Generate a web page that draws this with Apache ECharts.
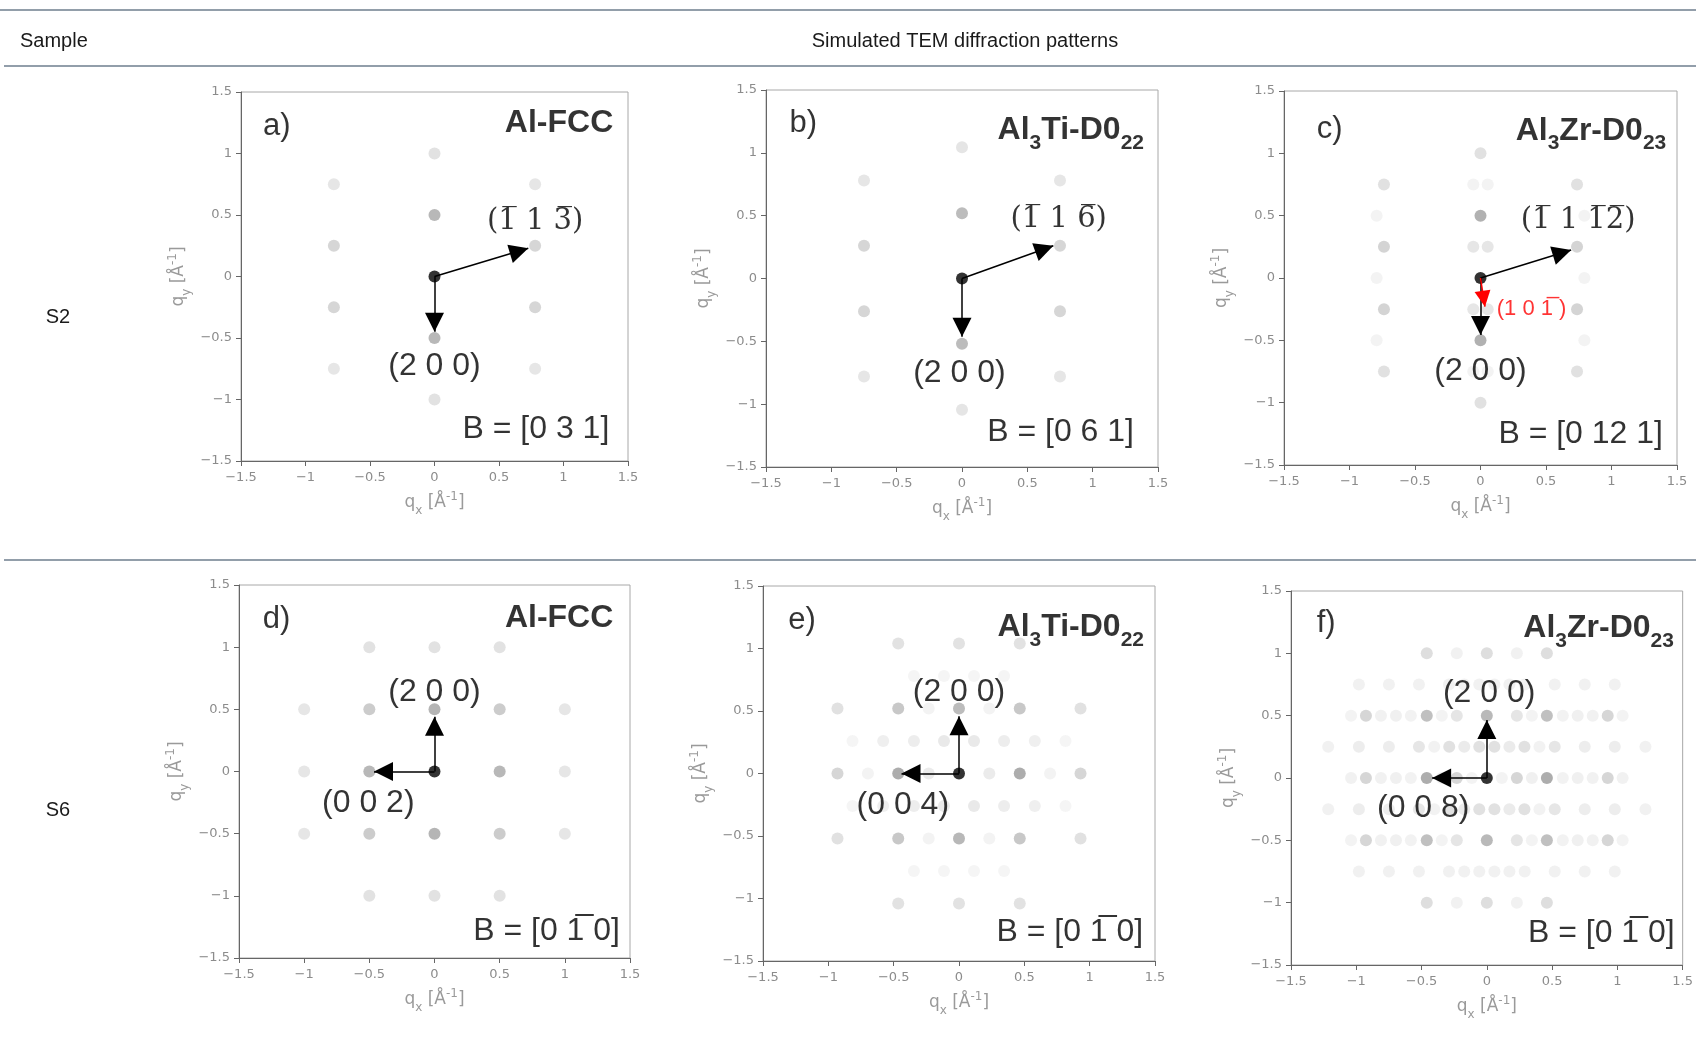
<!DOCTYPE html>
<html>
<head>
<meta charset="utf-8">
<title>Simulated TEM diffraction patterns</title>
<script src="https://cdn.jsdelivr.net/npm/echarts@6/dist/echarts.min.js"></script>
<style>
    html, body { margin: 0; padding: 0; background: #fff; }
    #main { width: 1696px; height: 1051px; }
</style>
</head>
<body>
<div id="main"></div>
<script>
// diffraction spots: [qx, qy, relative intensity]
const spotsA = [
    [0, 1, 0.14], [0, 0.5, 0.35], [0, 0, 1], [0, -0.5, 0.35], [0, -1, 0.14],
    [-0.78, 0.75, 0.12], [-0.78, 0.25, 0.2], [-0.78, -0.25, 0.2], [-0.78, -0.75, 0.12],
    [0.78, 0.75, 0.12], [0.78, 0.25, 0.2], [0.78, -0.25, 0.2], [0.78, -0.75, 0.12],
]
const spotsB = [
    [0, 1.045, 0.13], [0, 0.52, 0.33], [0, 0, 1], [0, -0.52, 0.33], [0, -1.045, 0.13],
    [-0.75, 0.78, 0.12], [-0.75, 0.26, 0.2], [-0.75, -0.26, 0.2], [-0.75, -0.78, 0.12],
    [0.75, 0.78, 0.12], [0.75, 0.26, 0.2], [0.75, -0.26, 0.2], [0.75, -0.78, 0.12],
]
const spotsC = [
    [0, 1, 0.15], [0, 0.5, 0.38], [0, 0, 1], [0, -0.5, 0.38], [0, -1, 0.15],
    [-0.055, 0.75, 0.06], [0.055, 0.75, 0.06], [-0.055, 0.25, 0.12], [0.055, 0.25, 0.12],
    [-0.055, -0.25, 0.12], [0.055, -0.25, 0.12], [-0.055, -0.75, 0.06], [0.055, -0.75, 0.06],
    [-0.737, 0.75, 0.15], [-0.737, 0.25, 0.21], [-0.737, -0.25, 0.21], [-0.737, -0.75, 0.15],
    [0.737, 0.75, 0.15], [0.737, 0.25, 0.21], [0.737, -0.25, 0.21], [0.737, -0.75, 0.15],
    [-0.793, 0.5, 0.06], [-0.793, 0, 0.06], [-0.793, -0.5, 0.06],
    [0.793, 0.5, 0.06], [0.793, 0, 0.06], [0.793, -0.5, 0.06],
]
const spotsD = [
    [-0.5, 1, 0.14], [0, 1, 0.14], [0.5, 1, 0.14],
    [-1, 0.5, 0.12], [-0.5, 0.5, 0.25], [0, 0.5, 0.36], [0.5, 0.5, 0.25], [1, 0.5, 0.12],
    [-1, 0, 0.12], [-0.5, 0, 0.35], [0, 0, 1], [0.5, 0, 0.35], [1, 0, 0.12],
    [-1, -0.5, 0.12], [-0.5, -0.5, 0.25], [0, -0.5, 0.36], [0.5, -0.5, 0.25], [1, -0.5, 0.12],
    [-0.5, -1, 0.14], [0, -1, 0.14], [0.5, -1, 0.14],
]
const spotsE = [
    [-0.465, 1.04, 0.14], [0, 1.04, 0.14], [0.465, 1.04, 0.14],
    [-0.345, 0.78, 0.05], [-0.115, 0.78, 0.05], [0.115, 0.78, 0.05], [0.345, 0.78, 0.05],
    [-0.93, 0.52, 0.15], [-0.465, 0.52, 0.27], [-0.232, 0.52, 0.06], [0, 0.52, 0.33],
    [0.232, 0.52, 0.06], [0.465, 0.52, 0.27], [0.93, 0.52, 0.15],
    [-0.815, 0.26, 0.05], [-0.58, 0.26, 0.08], [-0.345, 0.26, 0.09], [-0.115, 0.26, 0.105],
    [0.115, 0.26, 0.105], [0.345, 0.26, 0.09], [0.58, 0.26, 0.08], [0.815, 0.26, 0.05],
    [-0.93, 0, 0.2], [-0.697, 0, 0.06], [-0.465, 0, 0.4], [-0.232, 0, 0.1], [0, 0, 1],
    [0.232, 0, 0.1], [0.465, 0, 0.4], [0.697, 0, 0.06], [0.93, 0, 0.2],
    [-0.815, -0.26, 0.05], [-0.58, -0.26, 0.08], [-0.345, -0.26, 0.09], [-0.115, -0.26, 0.105],
    [0.115, -0.26, 0.105], [0.345, -0.26, 0.09], [0.58, -0.26, 0.08], [0.815, -0.26, 0.05],
    [-0.93, -0.52, 0.15], [-0.465, -0.52, 0.27], [-0.232, -0.52, 0.06], [0, -0.52, 0.35],
    [0.232, -0.52, 0.06], [0.465, -0.52, 0.27], [0.93, -0.52, 0.15],
    [-0.345, -0.78, 0.05], [-0.115, -0.78, 0.05], [0.115, -0.78, 0.05], [0.345, -0.78, 0.05],
    [-0.465, -1.04, 0.14], [0, -1.04, 0.14], [0.465, -1.04, 0.14],
]
const spotsF = [
    [-0.46, 1, 0.16], [-0.23, 1, 0.065], [0, 1, 0.16], [0.23, 1, 0.065], [0.46, 1, 0.16],
    [-0.98, 0.75, 0.065], [-0.75, 0.75, 0.065], [-0.52, 0.75, 0.065], [-0.29, 0.75, 0.07],
    [-0.173, 0.75, 0.065], [-0.058, 0.75, 0.065], [0.058, 0.75, 0.065], [0.173, 0.75, 0.065],
    [0.29, 0.75, 0.07], [0.52, 0.75, 0.065], [0.75, 0.75, 0.065], [0.98, 0.75, 0.065],
    [-1.04, 0.5, 0.06], [-0.926, 0.5, 0.2], [-0.811, 0.5, 0.065], [-0.696, 0.5, 0.075],
    [-0.582, 0.5, 0.063], [-0.46, 0.5, 0.31], [-0.345, 0.5, 0.06], [-0.23, 0.5, 0.13],
    [0, 0.5, 0.34], [0.23, 0.5, 0.13], [0.345, 0.5, 0.06], [0.46, 0.5, 0.31],
    [0.582, 0.5, 0.063], [0.696, 0.5, 0.075], [0.811, 0.5, 0.065], [0.926, 0.5, 0.2], [1.04, 0.5, 0.06],
    [-1.215, 0.25, 0.065], [-0.98, 0.25, 0.09], [-0.75, 0.25, 0.09], [-0.52, 0.25, 0.12],
    [-0.403, 0.25, 0.063], [-0.288, 0.25, 0.15], [-0.173, 0.25, 0.1], [-0.058, 0.25, 0.15],
    [0.058, 0.25, 0.15], [0.173, 0.25, 0.1], [0.288, 0.25, 0.15], [0.403, 0.25, 0.063],
    [0.52, 0.25, 0.12], [0.75, 0.25, 0.09], [0.98, 0.25, 0.09], [1.215, 0.25, 0.065],
    [-1.04, 0, 0.065], [-0.926, 0, 0.2], [-0.811, 0, 0.065], [-0.696, 0, 0.075], [-0.582, 0, 0.063],
    [-0.46, 0, 0.4], [-0.345, 0, 0.075], [-0.23, 0, 0.2], [-0.115, 0, 0.06], [0, 0, 1],
    [0.115, 0, 0.06], [0.23, 0, 0.2], [0.345, 0, 0.075], [0.46, 0, 0.4], [0.582, 0, 0.063],
    [0.696, 0, 0.075], [0.811, 0, 0.065], [0.926, 0, 0.2], [1.04, 0, 0.065],
    [-1.215, -0.25, 0.065], [-0.98, -0.25, 0.09], [-0.75, -0.25, 0.09], [-0.52, -0.25, 0.12],
    [-0.403, -0.25, 0.063], [-0.288, -0.25, 0.15], [-0.173, -0.25, 0.1], [-0.058, -0.25, 0.15],
    [0.058, -0.25, 0.15], [0.173, -0.25, 0.1], [0.288, -0.25, 0.15], [0.403, -0.25, 0.063],
    [0.52, -0.25, 0.12], [0.75, -0.25, 0.09], [0.98, -0.25, 0.09], [1.215, -0.25, 0.065],
    [-1.04, -0.5, 0.06], [-0.926, -0.5, 0.2], [-0.811, -0.5, 0.065], [-0.696, -0.5, 0.075],
    [-0.582, -0.5, 0.063], [-0.46, -0.5, 0.31], [-0.345, -0.5, 0.06], [-0.23, -0.5, 0.13],
    [0, -0.5, 0.34], [0.23, -0.5, 0.13], [0.345, -0.5, 0.06], [0.46, -0.5, 0.31],
    [0.582, -0.5, 0.063], [0.696, -0.5, 0.075], [0.811, -0.5, 0.065], [0.926, -0.5, 0.2], [1.04, -0.5, 0.06],
    [-0.98, -0.75, 0.065], [-0.75, -0.75, 0.065], [-0.52, -0.75, 0.065], [-0.29, -0.75, 0.07],
    [-0.173, -0.75, 0.065], [-0.058, -0.75, 0.065], [0.058, -0.75, 0.065], [0.173, -0.75, 0.065],
    [0.29, -0.75, 0.07], [0.52, -0.75, 0.065], [0.75, -0.75, 0.065], [0.98, -0.75, 0.065],
    [-0.46, -1, 0.16], [-0.23, -1, 0.065], [0, -1, 0.16], [0.23, -1, 0.065], [0.46, -1, 0.16],
]

// arrows from the direct beam: [x0, y0, tipX, tipY]
const arrowsA = [[0, 0, 0.727, 0.229], [0, 0, 0, -0.449]]
const arrowsB = [[0, 0, 0.699, 0.261], [0, 0, 0, -0.463]]
const arrowsC = [[0, 0, 0.692, 0.225], [0, 0, 0, -0.457]]
const arrowsD = [[0, 0, 0, 0.44], [0, 0, -0.464, 0]]
const arrowsE = [[0, 0, 0, 0.459], [0, 0, -0.44, 0]]
const arrowsF = [[0, 0, 0, 0.465], [0, 0, -0.419, 0]]
const redArrowC = [[0, 0, 0.034, -0.23]]

const OL = '\u0305' // combining overline
const letters = ['a)', 'b)', 'c)', 'd)', 'e)', 'f)']
const letterPos = [[-1.33, 1.22], [-1.32, 1.23], [-1.25, 1.19], [-1.318, 1.22], [-1.306, 1.228], [-1.303, 1.24]]
const phases = [
    '{bt|Al-FCC}',
    '{bt|Al}{st|3}{bt|Ti-D0}{st|22}',
    '{bt|Al}{st|3}{bt|Zr-D0}{st|23}',
    '{bt|Al-FCC}',
    '{bt|Al}{st|3}{bt|Ti-D0}{st|22}',
    '{bt|Al}{st|3}{bt|Zr-D0}{st|23}',
]
const phasePos = [[1.386, 1.245], [1.393, 1.18], [1.418, 1.18], [1.372, 1.232], [1.416, 1.17], [1.433, 1.2]]
const zoneAxes = ['B = [0 3 1]', 'B = [0 6 1]', 'B = [0 12 1]', 'B = [0 1' + OL + ' 0]', 'B = [0 1' + OL + ' 0]', 'B = [0 1' + OL + ' 0]']
const zonePos = [[1.355, -1.24], [1.316, -1.224], [1.393, -1.25], [1.423, -1.288], [1.41, -1.266], [1.439, -1.246]]
// reflection indices: [text, qx, qy]
const indexLabels = [
    [['(2 0 0)', 0, -0.73], ['(1' + OL + ' 1 3' + OL + ')', 0.78, 0.445]],
    [['(2 0 0)', -0.02, -0.755], ['(1' + OL + ' 1 6' + OL + ')', 0.74, 0.466]],
    [['(2 0 0)', 0, -0.75], ['(1' + OL + ' 1 1' + OL + '2' + OL + ')', 0.745, 0.465]],
    [['(2 0 0)', 0, 0.642], ['(0 0 2)', -0.508, -0.256]],
    [['(2 0 0)', 0, 0.654], ['(0 0 4)', -0.43, -0.252]],
    [['(2 0 0)', 0.018, 0.68], ['(0 0 8)', -0.487, -0.243]],
]
const redLabelC = ['(1 0 1' + OL + ' )', 0.39, -0.25]

const spots = [spotsA, spotsB, spotsC, spotsD, spotsE, spotsF]
const arrows = [arrowsA, arrowsB, arrowsC, arrowsD, arrowsE, arrowsF]

// panel boxes [left, top, width, height]
const boxes = [
    [241, 92, 387, 369], [766, 90, 392, 377], [1284, 91, 393, 374],
    [239, 585, 391, 373], [763, 586, 392, 375], [1291, 591, 392, 374],
]

const sansFont = 'Liberation Sans'
const tickFont = 'DejaVu Sans'
const fmtTick = (v) => String(v).replace('-', '\u2212')

const nameRich = {
    n: { fontFamily: tickFont, fontSize: 17, color: '#9a9a9a', lineHeight: 20, verticalAlign: 'top', padding: [4, 0, 0, 0] },
    sub: { fontFamily: tickFont, fontSize: 12, color: '#9a9a9a', lineHeight: 12, verticalAlign: 'top', padding: [15, 0, 0, 0] },
    sup: { fontFamily: tickFont, fontSize: 12, color: '#9a9a9a', lineHeight: 12, verticalAlign: 'top', padding: [1, 0, 0, 0] },
}
const titleRich = {
    bt: { fontFamily: sansFont, fontWeight: 'bold', fontSize: 32, lineHeight: 32, verticalAlign: 'top', color: '#000' },
    st: { fontFamily: sansFont, fontWeight: 'bold', fontSize: 21, lineHeight: 21, verticalAlign: 'top', padding: [18, 0, 0, 0], color: '#000' },
}

const grid = boxes.map((b) => ({
    left: b[0], top: b[1], width: b[2], height: b[3],
    show: true, borderColor: '#a8a8a8', borderWidth: 1,
}))

const axisCommon = {
    type: 'value', min: -1.5, max: 1.5, interval: 0.5,
    splitLine: { show: false },
    axisLine: { onZero: false, lineStyle: { color: '#666', width: 1 } },
    axisTick: { length: 5, lineStyle: { color: '#666' } },
    axisLabel: { color: '#8c8c8c', fontSize: 13, fontFamily: tickFont, formatter: fmtTick },
    nameLocation: 'middle',
    nameTextStyle: { rich: nameRich },
}

const xAxis = boxes.map((b, i) => ({
    ...axisCommon,
    gridIndex: i,
    axisLabel: { ...axisCommon.axisLabel, margin: 10 },
    name: '{n|q}{sub|x}{n| [Å}{sup|-1}{n|]}',
    nameGap: 29,
}))
const yAxis = boxes.map((b, i) => ({
    ...axisCommon,
    gridIndex: i,
    axisLabel: { ...axisCommon.axisLabel, margin: 9 },
    name: '{n|q}{sub|y}{n| [Å}{sup|-1}{n|]}',
    nameGap: 55,
    nameRotate: 90,
}))

function arrowLines(list) {
    return list.map((a) => [{ coord: [a[0], a[1]] }, { coord: [a[2], a[3]] }])
}

// the tip sits on the end coordinate: head is shifted back by half its size
function arrowSeries(i, list, color, head) {
    return {
        type: 'scatter', xAxisIndex: i, yAxisIndex: i,
        data: [], itemStyle: { color: color },
        silent: true, animation: false, z: 4,
        markLine: {
            silent: true, animation: false,
            symbol: ['none', 'triangle'],
            symbolSize: head,
            symbolOffset: [0, [0, head / 2]],
            label: { show: false },
            lineStyle: { color: color, width: 1.5, type: 'solid' },
            data: arrowLines(list),
        },
    }
}

const series = []
const spotSeries = []
spots.forEach((s, i) => {
    spotSeries.push(series.length)
    series.push({
        type: 'scatter', xAxisIndex: i, yAxisIndex: i,
        symbolSize: 12, data: s, silent: true, animation: false, z: 2,
    })
    series.push(arrowSeries(i, arrows[i], '#000', 19))

    const labelData = [
        { value: letterPos[i], label: { formatter: letters[i], align: 'left', fontSize: 31 } },
        { value: phasePos[i], label: { formatter: phases[i], align: 'right', rich: titleRich } },
        { value: zonePos[i], label: { formatter: zoneAxes[i], align: 'right' } },
    ]
    indexLabels[i].forEach((t) => {
        const lbl = { formatter: t[0], align: 'center' }
        if (t[0].indexOf(OL) >= 0) {
            lbl.fontFamily = 'DejaVu Serif'
            lbl.fontSize = 29
        }
        labelData.push({ value: [t[1], t[2]], label: lbl })
    })

    series.push({
        type: 'scatter', xAxisIndex: i, yAxisIndex: i,
        symbolSize: 1, itemStyle: { color: 'rgba(0,0,0,0)' },
        silent: true, animation: false, z: 5,
        label: { show: true, position: 'inside', color: '#000', fontFamily: sansFont, fontSize: 32 },
        data: labelData,
    })
})

// red (1 0 -1) arrow and label in panel c
series.push(arrowSeries(2, redArrowC, '#ff0000', 16))
series.push({
    type: 'scatter', xAxisIndex: 2, yAxisIndex: 2,
    symbolSize: 1, itemStyle: { color: 'rgba(0,0,0,0)' },
    silent: true, animation: false, z: 6,
    label: { show: true, position: 'inside', color: '#ff0000', fontFamily: sansFont, fontSize: 22, formatter: redLabelC[0] },
    data: [[redLabelC[1], redLabelC[2]]],
})

const rule = (y, x1) => ({
    type: 'line', silent: true,
    shape: { x1: x1, y1: y, x2: 1696, y2: y },
    style: { stroke: '#6e7e8e', lineWidth: 1.5 },
})
const txt = (x, y, text, align) => ({
    type: 'text', x: x, y: y, silent: true,
    style: { text: text, font: '20px "Liberation Sans"', fill: '#1a1a1a', align: align, verticalAlign: 'middle' },
})

const option = {
    backgroundColor: '#fff',
    animation: false,
    grid: grid,
    xAxis: xAxis,
    yAxis: yAxis,
    visualMap: {
        show: false, type: 'continuous', min: 0, max: 1, dimension: 2,
        seriesIndex: spotSeries,
        inRange: { color: ['#ffffff', '#000000'] },
    },
    graphic: [
        rule(10, 0), rule(66, 4), rule(560, 4),
        txt(20, 41, 'Sample', 'left'),
        txt(965, 41, 'Simulated TEM diffraction patterns', 'center'),
        txt(58, 317, 'S2', 'center'),
        txt(58, 810, 'S6', 'center'),
    ],
    series: series,
}

const myChart = echarts.init(document.getElementById('main'))
myChart.setOption(option)
window.addEventListener('resize', myChart.resize)
</script>
</body>
</html>
